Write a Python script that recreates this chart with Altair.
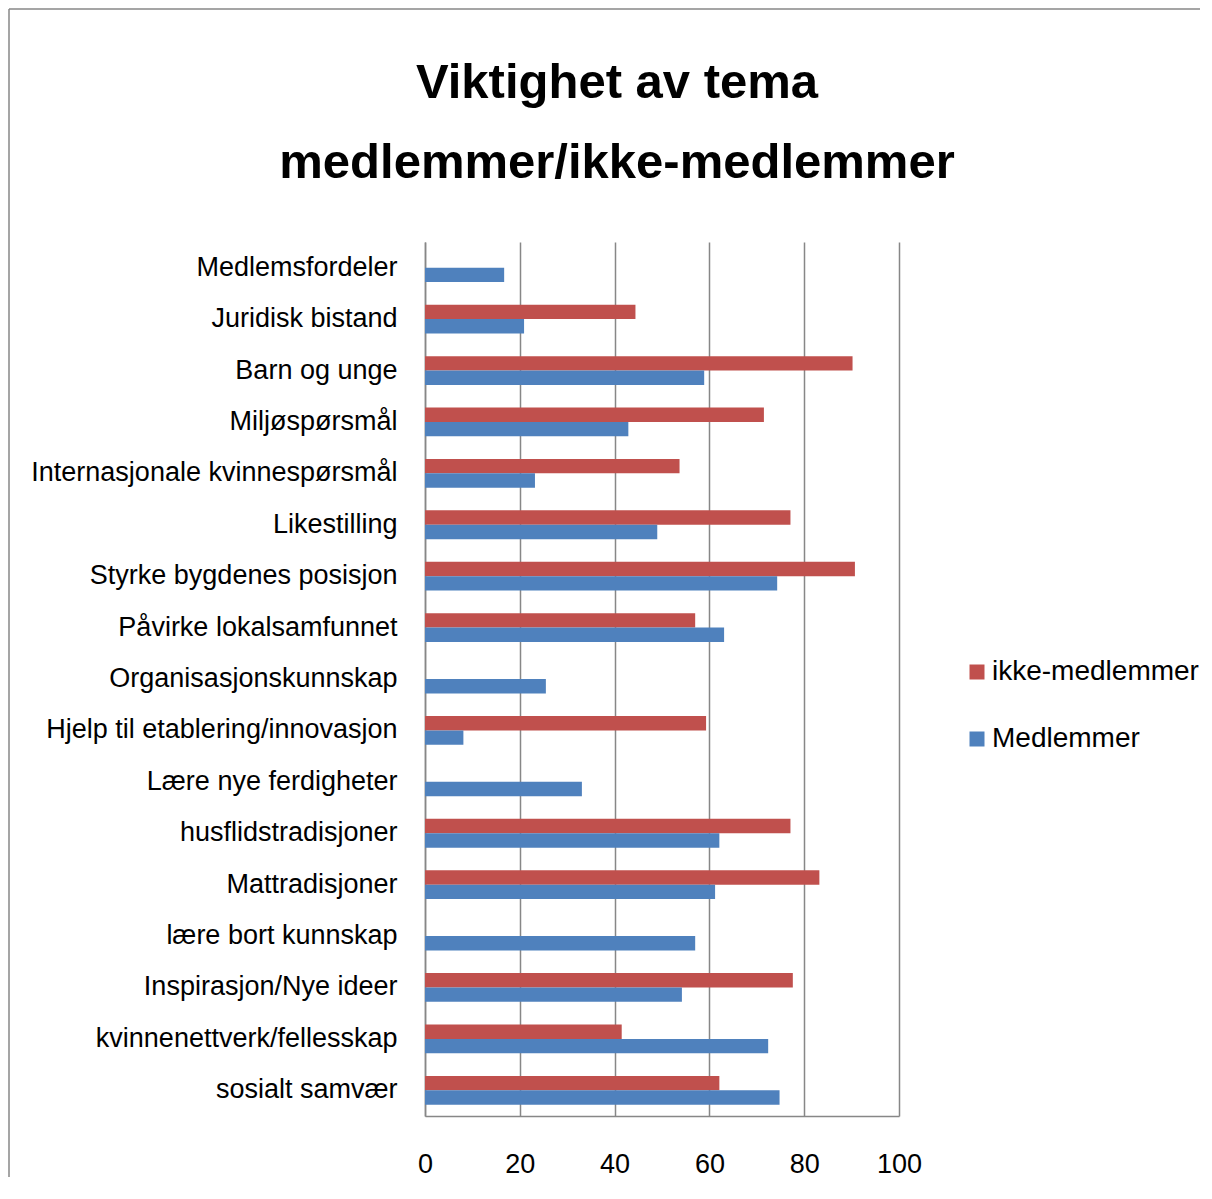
import altair as alt
import pandas as pd

categories = [
    "Medlemsfordeler",
    "Juridisk bistand",
    "Barn og unge",
    "Miljøspørsmål",
    "Internasjonale kvinnespørsmål",
    "Likestilling",
    "Styrke bygdenes posisjon",
    "Påvirke lokalsamfunnet",
    "Organisasjonskunnskap",
    "Hjelp til etablering/innovasjon",
    "Lære nye ferdigheter",
    "husflidstradisjoner",
    "Mattradisjoner",
    "lære bort kunnskap",
    "Inspirasjon/Nye ideer",
    "kvinnenettverk/fellesskap",
    "sosialt samvær",
]
ikke_medlemmer = [None, 44.4, 90.2, 71.5, 53.7, 77.1, 90.7, 57.0, None, 59.3,
                  None, 77.1, 83.2, None, 77.6, 41.5, 62.1]
medlemmer = [16.7, 20.9, 58.9, 42.9, 23.2, 49.0, 74.3, 63.1, 25.5, 8.1,
             33.1, 62.1, 61.2, 57.0, 54.2, 72.4, 74.8]
series_names = ["ikke-medlemmer", "Medlemmer"]
series_colors = ["#C0504D", "#4F81BD"]
x_ticks = [0, 20, 40, 60, 80, 100]
title_lines = ["Viktighet av tema", "medlemmer/ikke-medlemmer"]

rows = []
for cat, a, b in zip(categories, ikke_medlemmer, medlemmer):
    if a is not None:
        rows.append({"tema": cat, "gruppe": series_names[0], "verdi": a})
    if b is not None:
        rows.append({"tema": cat, "gruppe": series_names[1], "verdi": b})
df = pd.DataFrame(rows)

FONT = "Liberation Sans"
GRAY = "#878787"

bars = alt.Chart(df).mark_bar().encode(
    x=alt.X(
        "verdi:Q",
        scale=alt.Scale(domain=[0, 100], nice=False, zero=True),
        axis=alt.Axis(
            values=x_ticks, title=None, grid=True, ticks=False,
            labelFontSize=27, labelFont=FONT, labelColor="#000000",
            labelPadding=35, labelFlush=False, format="d",
            domainColor=GRAY, domainWidth=1.5,
            gridColor=GRAY, gridWidth=1.5,
        ),
    ),
    y=alt.Y(
        "tema:N",
        scale=alt.Scale(domain=categories, paddingInner=0.44, paddingOuter=0.22),
        axis=alt.Axis(
            title=None, ticks=False, grid=False,
            labelFontSize=27, labelFont=FONT, labelColor="#000000",
            labelPadding=28, labelLimit=600,
            domainColor=GRAY, domainWidth=1.5,
        ),
    ),
    yOffset=alt.YOffset("gruppe:N", scale=alt.Scale(domain=series_names)),
    color=alt.Color(
        "gruppe:N",
        scale=alt.Scale(domain=series_names, range=series_colors),
        legend=alt.Legend(
            title=None, orient="none", legendX=538, legendY=416,
            symbolType="square", symbolSize=225, symbolStrokeWidth=0,
            labelFontSize=28, labelFont=FONT, labelColor="#000000",
            labelOffset=1, labelLimit=600, rowPadding=39, padding=0,
        ),
    ),
)

one = alt.InlineData(values=[{"f": 1}])
frame_left = alt.Chart(one).mark_rule(color=GRAY, strokeWidth=1.5).encode(
    x=alt.value(-416), y=alt.value(-233), y2=alt.value(935)
)
frame_top = alt.Chart(one).mark_rule(color=GRAY, strokeWidth=1.5).encode(
    x=alt.value(-416), x2=alt.value(775), y=alt.value(-233)
)
title_1 = alt.Chart(one).mark_text(
    text=title_lines[0], font=FONT, fontSize=49, fontWeight="bold",
    align="center", baseline="alphabetic", color="#000000",
).encode(x=alt.value(192), y=alt.value(-144))
title_2 = alt.Chart(one).mark_text(
    text=title_lines[1], font=FONT, fontSize=49, fontWeight="bold",
    align="center", baseline="alphabetic", color="#000000",
).encode(x=alt.value(192), y=alt.value(-64))

chart = alt.layer(bars, frame_left, frame_top, title_1, title_2).properties(
    width=474,
    height=874,
    padding=0,
).configure_view(stroke=None)

chart.save("out.html", embed_options={"renderer": "svg", "actions": False})
